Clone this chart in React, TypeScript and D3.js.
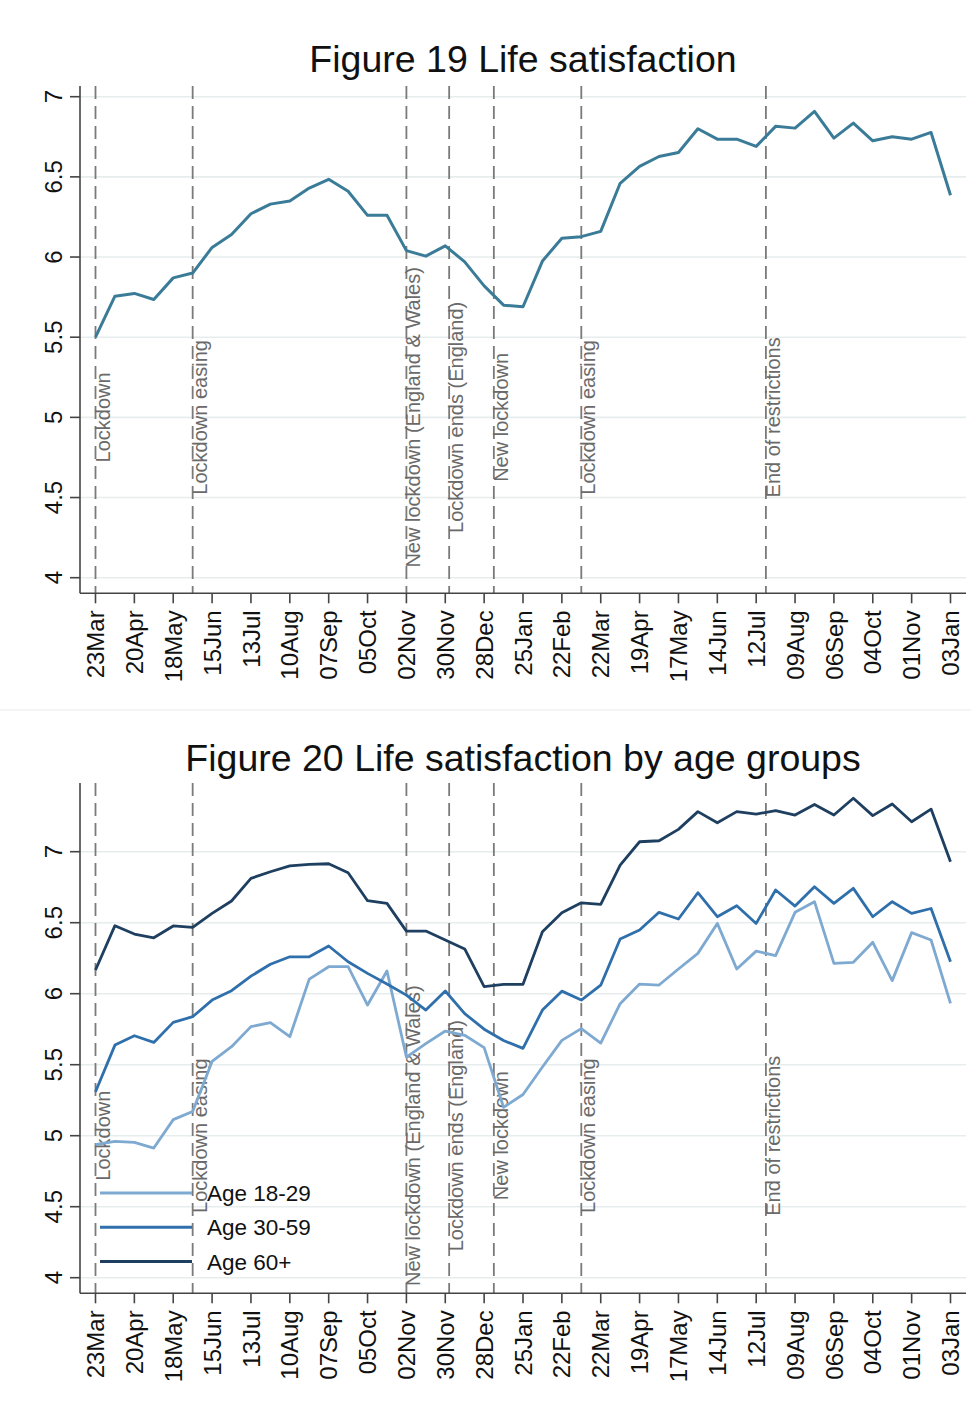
import React from "react";
import * as d3 from "d3";

// Fortnightly survey waves, index 0 = 23 March 2020
const tickLabels = [
  "23Mar", "20Apr", "18May", "15Jun", "13Jul", "10Aug", "07Sep", "05Oct",
  "02Nov", "30Nov", "28Dec", "25Jan", "22Feb", "22Mar", "19Apr", "17May",
  "14Jun", "12Jul", "09Aug", "06Sep", "04Oct", "01Nov", "03Jan",
];
const tickIndex = tickLabels.map((_, i) => i * 2);

const yTicks = [4, 4.5, 5, 5.5, 6, 6.5, 7];

const events = [
  { at: 0, label: "Lockdown" },
  { at: 5, label: "Lockdown easing" },
  { at: 16, label: "New lockdown (England & Wales)" },
  { at: 18.2, label: "Lockdown ends (England)" },
  { at: 20.5, label: "New lockdown" },
  { at: 25, label: "Lockdown easing" },
  { at: 34.5, label: "End of restrictions" },
];

const overall = [
  5.5, 5.756, 5.773, 5.735, 5.87, 5.9, 6.06, 6.14, 6.27, 6.33, 6.35, 6.43,
  6.485, 6.41, 6.26, 6.26, 6.04, 6.006, 6.07, 5.97, 5.82, 5.7, 5.69, 5.975,
  6.117, 6.127, 6.16, 6.46, 6.565, 6.627, 6.652, 6.8, 6.735, 6.735, 6.69,
  6.815, 6.804, 6.908, 6.742, 6.835, 6.725, 6.75, 6.735, 6.777, 6.385,
];

const age18to29 = [
  4.937, 4.96, 4.953, 4.913, 5.113, 5.171, 5.523, 5.627, 5.768, 5.796, 5.697,
  6.103, 6.19, 6.19, 5.92, 6.16, 5.554, 5.648, 5.737, 5.707, 5.62, 5.2, 5.29,
  5.484, 5.671, 5.754, 5.652, 5.93, 6.068, 6.061, 6.174, 6.284, 6.495, 6.174,
  6.3, 6.268, 6.573, 6.648, 6.214, 6.221, 6.362, 6.092, 6.43, 6.378, 5.932,
];

const age30to59 = [
  5.31, 5.638, 5.704, 5.657, 5.798, 5.838, 5.955, 6.021, 6.124, 6.207, 6.26,
  6.26, 6.336, 6.225, 6.143, 6.068, 5.99, 5.885, 6.019, 5.86, 5.75, 5.67,
  5.615, 5.885, 6.018, 5.955, 6.06, 6.385, 6.448, 6.573, 6.526, 6.711, 6.542,
  6.62, 6.495, 6.73, 6.617, 6.753, 6.636, 6.742, 6.542, 6.648, 6.566, 6.6,
  6.225,
];

const age60plus = [
  6.167, 6.479, 6.42, 6.394, 6.477, 6.467, 6.566, 6.653, 6.812, 6.859, 6.9,
  6.911, 6.915, 6.852, 6.655, 6.636, 6.441, 6.441, 6.378, 6.315, 6.05, 6.066,
  6.066, 6.437, 6.57, 6.64, 6.629, 6.906, 7.07, 7.077, 7.157, 7.282, 7.204,
  7.282, 7.265, 7.289, 7.258, 7.333, 7.258, 7.376, 7.254, 7.336, 7.211, 7.3,
  6.93,
];

const FONT = "'Liberation Sans', Arial, Helvetica, sans-serif";
const W = 971;
const H = 1416;
const TICK_FONT = 24;

type Series = { name: string; values: number[]; color: string; width: number };

type PanelProps = {
  title: string;
  titleY: number;
  plotTop: number;
  axisY: number;
  y4: number;
  y7: number;
  series: Series[];
  legend?: boolean;
};

const x = d3.scaleLinear().domain([0, 44]).range([95.5, 950.5]);
const AXIS_X = 80;
const RIGHT = 966;

function Panel({ title, titleY, plotTop, axisY, y4, y7, series, legend }: PanelProps) {
  const y = d3.scaleLinear().domain([4, 7]).range([y4, y7]);
  const line = d3
    .line<number>()
    .x((_, i) => x(i))
    .y((d) => y(d));

  return (
    <g>
      <text
        x={523}
        y={titleY}
        textAnchor="middle"
        fontFamily={FONT}
        fontSize={37.5}
        fill="#111"
      >
        {title}
      </text>

      {/* horizontal grid */}
      {yTicks.map((t) => (
        <line
          key={`g${t}`}
          x1={AXIS_X}
          x2={RIGHT}
          y1={y(t)}
          y2={y(t)}
          stroke="#e7eded"
          strokeWidth={1.6}
        />
      ))}

      {/* event markers */}
      {events.map((e, i) => (
        <g key={`e${i}`}>
          <line
            x1={x(e.at)}
            x2={x(e.at)}
            y1={plotTop}
            y2={axisY}
            stroke="#7a7a7a"
            strokeWidth={1.8}
            strokeDasharray="13 7"
          />
          <text
            transform={`translate(${x(e.at) + 14},${y(5)}) rotate(-90)`}
            textAnchor="middle"
            fontFamily={FONT}
            fontSize={20}
            fill="#6a6a6a"
          >
            {e.label}
          </text>
        </g>
      ))}

      {/* series */}
      {series.map((s) => (
        <path
          key={s.name}
          d={line(s.values) || ""}
          fill="none"
          stroke={s.color}
          strokeWidth={s.width}
          strokeLinejoin="round"
        />
      ))}

      {/* y axis */}
      <line x1={AXIS_X} x2={AXIS_X} y1={plotTop} y2={axisY} stroke="#444" strokeWidth={1.6} />
      {yTicks.map((t) => (
        <g key={`yt${t}`}>
          <line x1={AXIS_X - 10} x2={AXIS_X} y1={y(t)} y2={y(t)} stroke="#444" strokeWidth={1.6} />
          <text
            transform={`translate(${62},${y(t)}) rotate(-90)`}
            textAnchor="middle"
            fontFamily={FONT}
            fontSize={TICK_FONT}
            fill="#111"
          >
            {String(t)}
          </text>
        </g>
      ))}

      {/* x axis */}
      <line x1={AXIS_X} x2={RIGHT} y1={axisY} y2={axisY} stroke="#444" strokeWidth={1.6} />
      {tickIndex.map((ti, k) => (
        <g key={`xt${ti}`}>
          <line x1={x(ti)} x2={x(ti)} y1={axisY} y2={axisY + 10} stroke="#444" strokeWidth={1.6} />
          <text
            transform={`translate(${x(ti) + 8.6},${axisY + 17}) rotate(-90)`}
            textAnchor="end"
            fontFamily={FONT}
            fontSize={TICK_FONT}
            fill="#111"
          >
            {tickLabels[k]}
          </text>
        </g>
      ))}

      {legend &&
        series.map((s, i) => {
          const ly = 1193 + i * 34.3;
          return (
            <g key={`lg${s.name}`}>
              <line x1={100} x2={192} y1={ly} y2={ly} stroke={s.color} strokeWidth={3} />
              <text
                x={207}
                y={ly + 8}
                fontFamily={FONT}
                fontSize={22.5}
                fill="#111"
              >
                {s.name}
              </text>
            </g>
          );
        })}
    </g>
  );
}

export default function App() {
  return (
    <svg
      width={W}
      height={H}
      viewBox={`0 0 ${W} ${H}`}
      style={{ position: "absolute", left: 0, top: 0, background: "#fff" }}
    >
      <rect x={0} y={0} width={W} height={H} fill="#fff" />
      <Panel
        title="Figure 19 Life satisfaction"
        titleY={72}
        plotTop={86}
        axisY={593.3}
        y4={577.7}
        y7={96.7}
        series={[{ name: "Overall", values: overall, color: "#3a7b98", width: 3 }]}
      />
      <line x1={0} x2={W} y1={710} y2={710} stroke="#f1f1f1" strokeWidth={1.5} />
      <Panel
        title="Figure 20 Life satisfaction by age groups"
        titleY={771}
        plotTop={783}
        axisY={1293.3}
        y4={1277.7}
        y7={851.7}
        legend
        series={[
          { name: "Age 18-29", values: age18to29, color: "#7ea9d1", width: 2.8 },
          { name: "Age 30-59", values: age30to59, color: "#2f6fab", width: 2.8 },
          { name: "Age 60+", values: age60plus, color: "#1e3f60", width: 2.8 },
        ]}
      />
    </svg>
  );
}
